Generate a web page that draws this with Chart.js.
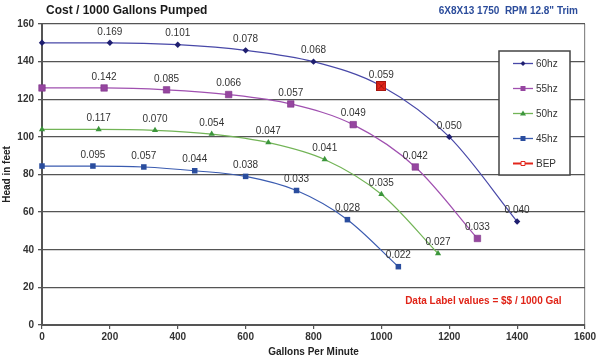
<!DOCTYPE html>
<html>
<head>
<meta charset="utf-8">
<script src="https://cdn.jsdelivr.net/npm/chart.js@4.4.0/dist/chart.umd.min.js"></script>
<style>
  html, body { margin: 0; padding: 0; background: #fff; }
  #wrap { width: 600px; height: 358px; }
</style>
</head>
<body>
<div id="wrap"><canvas id="pumpChart" width="600" height="358"></canvas></div>
<script>
// flow (gpm), head (ft) and cost labels ($/1000 gal) per speed
const gpm60 = [0, 200, 400, 600, 800, 1000, 1200, 1400];
const head60 = [150, 150, 149, 146, 140, 127, 100, 55];
const cost60 = [null, "0.169", "0.101", "0.078", "0.068", null, "0.050", "0.040"];

const gpm55 = [0, 183, 367, 550, 733, 917, 1100, 1283];
const head55 = [126, 126, 125, 122.5, 117.5, 106.5, 84, 46];
const cost55 = [null, "0.142", "0.085", "0.066", "0.057", "0.049", "0.042", "0.033"];

const gpm50 = [0, 167, 333, 500, 667, 833, 1000, 1167];
const head50 = [104, 104, 103.5, 101.5, 97, 88, 69.5, 38];
const cost50 = [null, "0.117", "0.070", "0.054", "0.047", "0.041", "0.035", "0.027"];

const gpm45 = [0, 150, 300, 450, 600, 750, 900, 1050];
const head45 = [84.5, 84.5, 84, 82, 79, 71.5, 56, 31];
const cost45 = [null, "0.095", "0.057", "0.044", "0.038", "0.033", "0.028", "0.022"];

const gpmBep = [1000];
const headBep = [127];
const costBep = ["0.059"];

const seriesNames = ["60hz", "55hz", "50hz", "45hz", "BEP"];

const FONT = "Arial, 'Liberation Sans', sans-serif";

function toPoints(xs, ys) {
  return xs.map((x, i) => ({ x: x, y: ys[i] }));
}

// red square with a cross for the BEP marker
const bepIcon = document.createElement("canvas");
bepIcon.width = 10;
bepIcon.height = 10;
(function () {
  const g = bepIcon.getContext("2d");
  g.fillStyle = "#E2261C";
  g.fillRect(0, 0, 10, 10);
  g.strokeStyle = "#A3150F";
  g.lineWidth = 1;
  g.strokeRect(0.5, 0.5, 9, 9);
  g.beginPath();
  g.moveTo(2, 2);
  g.lineTo(8, 8);
  g.moveTo(8, 2);
  g.lineTo(2, 8);
  g.stroke();
})();

const labelPlugin = {
  id: "costLabels",
  afterDatasetsDraw(chart) {
    const ctx = chart.ctx;
    ctx.save();
    ctx.font = "10px " + FONT;
    ctx.fillStyle = "#333";
    ctx.textAlign = "center";
    ctx.textBaseline = "middle";
    chart.data.datasets.forEach((ds, i) => {
      const meta = chart.getDatasetMeta(i);
      meta.data.forEach((el, j) => {
        const txt = ds.costLabels[j];
        if (txt) ctx.fillText(txt, el.x, el.y - 11);
      });
    });
    ctx.restore();
  },
};

function legendMarker(ctx, style, x, y, fill, stroke) {
  ctx.fillStyle = fill;
  ctx.strokeStyle = stroke;
  ctx.lineWidth = 1;
  ctx.beginPath();
  if (style === "diamond") {
    ctx.moveTo(x, y - 2.5);
    ctx.lineTo(x + 2.5, y);
    ctx.lineTo(x, y + 2.5);
    ctx.lineTo(x - 2.5, y);
    ctx.closePath();
    ctx.fill();
  } else if (style === "square") {
    ctx.rect(x - 2.5, y - 2.5, 5, 5);
    ctx.fill();
  } else if (style === "triangle") {
    ctx.moveTo(x, y - 3);
    ctx.lineTo(x + 3, y + 2);
    ctx.lineTo(x - 3, y + 2);
    ctx.closePath();
    ctx.fill();
  } else {
    ctx.fillStyle = "#fff";
    ctx.rect(x - 2, y - 2, 4, 4);
    ctx.fill();
    ctx.stroke();
  }
}

const decorPlugin = {
  id: "decor",
  afterDraw(chart) {
    const ctx = chart.ctx;
    const area = chart.chartArea;
    const xs = chart.scales.x;
    const ys = chart.scales.y;
    ctx.save();

    // titles
    ctx.textBaseline = "middle";
    ctx.textAlign = "left";
    ctx.fillStyle = "#1a1a1a";
    ctx.font = "bold 12px " + FONT;
    ctx.fillText("Cost / 1000 Gallons Pumped", 46, 11);
    ctx.textAlign = "right";
    ctx.fillStyle = "#2B4C9B";
    ctx.font = "bold 10px " + FONT;
    ctx.fillText('6X8X13 1750  RPM 12.8" Trim', 578, 11);

    // note
    ctx.textAlign = "left";
    ctx.fillStyle = "#E02418";
    ctx.font = "bold 10px " + FONT;
    ctx.fillText("Data Label values = $$ / 1000 Gal", xs.getPixelForValue(1070), ys.getPixelForValue(12.8));

    // legend box
    const bx = area.right - 86;
    const by = area.top + 27;
    const bw = 71;
    const bh = 124;
    ctx.fillStyle = "#fff";
    ctx.fillRect(bx, by, bw, bh);
    ctx.strokeStyle = "#444";
    ctx.lineWidth = 1.5;
    ctx.strokeRect(bx, by, bw, bh);

    const styles = ["diamond", "square", "triangle", "square", "hollow"];
    const fills = ["#1F1F70", "#9646A0", "#3C963C", "#2A4D9E", "#E2261C"];
    chart.data.datasets.forEach((ds, i) => {
      const ly = by + 12.5 + i * 25;
      ctx.strokeStyle = ds.borderColor;
      ctx.lineWidth = i === 4 ? 2 : 1.3;
      ctx.beginPath();
      ctx.moveTo(bx + 14, ly);
      ctx.lineTo(bx + 34, ly);
      ctx.stroke();
      legendMarker(ctx, styles[i], bx + 24, ly, fills[i], ds.borderColor);
      ctx.fillStyle = "#333";
      ctx.font = "10px " + FONT;
      ctx.textAlign = "left";
      ctx.fillText(ds.label, bx + 37, ly + 0.5);
    });
    ctx.restore();
  },
};

function initChart() {
  Chart.defaults.font.family = FONT;
  const ctx = document.getElementById("pumpChart").getContext("2d");
  new Chart(ctx, {
    type: "line",
    data: {
      datasets: [
        {
          label: seriesNames[0],
          data: toPoints(gpm60, head60),
          costLabels: cost60,
          borderColor: "#4848A8",
          borderWidth: 1.2,
          pointStyle: "rectRot",
          pointRadius: 3.2,
          pointBackgroundColor: "#1F1F70",
          pointBorderColor: "#1F1F70",
          pointBorderWidth: 0,
          cubicInterpolationMode: "monotone",
          fill: false,
          clip: false,
        },
        {
          label: seriesNames[1],
          data: toPoints(gpm55, head55),
          costLabels: cost55,
          borderColor: "#A050B0",
          borderWidth: 1.2,
          pointStyle: "rect",
          pointRadius: 4.6,
          pointBackgroundColor: "#9646A0",
          pointBorderColor: "#7E3488",
          pointBorderWidth: 0.6,
          cubicInterpolationMode: "monotone",
          fill: false,
          clip: false,
        },
        {
          label: seriesNames[2],
          data: toPoints(gpm50, head50),
          costLabels: cost50,
          borderColor: "#72B456",
          borderWidth: 1.2,
          pointStyle: "triangle",
          pointRadius: 3.6,
          pointBackgroundColor: "#3C963C",
          pointBorderColor: "#3C963C",
          pointBorderWidth: 0,
          cubicInterpolationMode: "monotone",
          fill: false,
          clip: false,
        },
        {
          label: seriesNames[3],
          data: toPoints(gpm45, head45),
          costLabels: cost45,
          borderColor: "#3A5BB0",
          borderWidth: 1.2,
          pointStyle: "rect",
          pointRadius: 3.9,
          pointBackgroundColor: "#2A4D9E",
          pointBorderColor: "#2A4D9E",
          pointBorderWidth: 0,
          cubicInterpolationMode: "monotone",
          fill: false,
          clip: false,
        },
        {
          label: seriesNames[4],
          data: toPoints(gpmBep, headBep),
          costLabels: costBep,
          borderColor: "#E2261C",
          borderWidth: 2,
          pointStyle: bepIcon,
          pointRadius: 5,
          showLine: false,
          order: -1,
        },
      ],
    },
    options: {
      responsive: false,
      animation: false,
      events: [],
      layout: { padding: { top: 24, right: 15, left: 0, bottom: 0 } },
      plugins: {
        legend: { display: false },
        tooltip: { enabled: false },
      },
      scales: {
        x: {
          type: "linear",
          min: 0,
          max: 1600,
          afterFit: (s) => { s.height = 33; },
          ticks: {
            stepSize: 200,
            padding: 2,
            color: "#333",
            font: { size: 10, weight: "bold" },
            callback: (v) => String(v),
          },
          grid: {
            color: (c) => (c.tick && c.tick.value === 1600 ? "#8a8a8a" : "rgba(0,0,0,0)"),
            tickColor: "#555",
            tickLength: 4,
            lineWidth: 1.2,
          },
          border: { color: "#555", width: 2 },
          title: {
            display: true,
            text: "Gallons Per Minute",
            color: "#222",
            font: { size: 10, weight: "bold" },
            padding: 0,
          },
        },
        y: {
          min: 0,
          max: 160,
          afterFit: (s) => { s.width = 42; },
          ticks: {
            stepSize: 20,
            padding: 4,
            color: "#333",
            font: { size: 10, weight: "bold" },
            callback: (v) => String(v),
          },
          grid: {
            color: "#555",
            tickLength: 4,
            lineWidth: 1.3,
          },
          border: { color: "#555", width: 2 },
          title: {
            display: true,
            text: "Head in feet",
            color: "#222",
            font: { size: 10, weight: "bold" },
            padding: { top: 1, bottom: 0 },
          },
        },
      },
    },
    plugins: [labelPlugin, decorPlugin],
  });
}

window.onload = initChart;
</script>
</body>
</html>
